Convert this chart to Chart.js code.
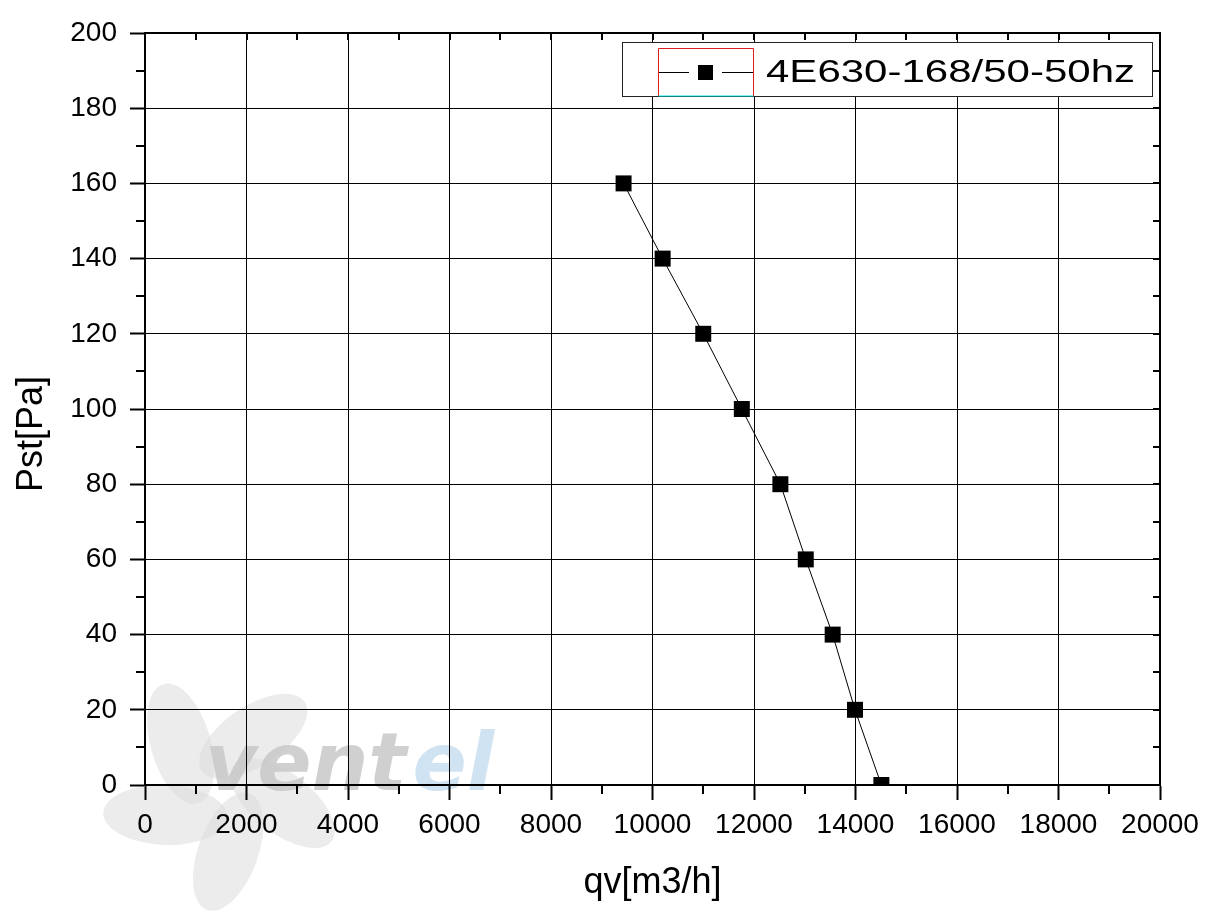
<!DOCTYPE html>
<html>
<head>
<meta charset="utf-8">
<script src="https://cdn.jsdelivr.net/npm/chart.js@4.4.0/dist/chart.umd.min.js"></script>
<style>
  html, body { margin: 0; padding: 0; background: #fff; }
  #wrap { width: 1223px; height: 921px; }
</style>
</head>
<body>
<div id="wrap"><canvas id="chart" width="1223" height="921"></canvas></div>
<script>
// fan curve
const flowRate = [9430, 10200, 11000, 11760, 12520, 13020, 13550, 13990, 14510];
const staticPressure = [160, 140, 120, 100, 80, 60, 40, 20, 0];
const seriesName = "4E630-168/50-50hz";

const xTicks = [0, 2000, 4000, 6000, 8000, 10000, 12000, 14000, 16000, 18000, 20000];
const yTicks = [0, 20, 40, 60, 80, 100, 120, 140, 160, 180, 200];
const xMinorStep = 1000;
const yMinorStep = 10;

const xTitle = "qv[m3/h]";
const yTitle = "Pst[Pa]";

const FONT = '"Liberation Sans", Arial, sans-serif';

// faint logo behind the plot
function drawWatermark(ctx) {
  ctx.save();
  ctx.fillStyle = "rgba(220,220,220,0.55)";
  const cx = 222, cy = 790;
  for (let i = 0; i < 5; i++) {
    const a = -2.3 + i * (Math.PI * 2 / 5);
    ctx.save();
    ctx.translate(cx + Math.cos(a) * 62, cy + Math.sin(a) * 62);
    ctx.rotate(a + 0.45);
    ctx.beginPath();
    ctx.ellipse(0, 0, 62, 30, 0, 0, Math.PI * 2);
    ctx.fill();
    ctx.restore();
  }
  ctx.font = 'italic bold 80px "DejaVu Sans", sans-serif';
  ctx.textBaseline = "alphabetic";
  ctx.fillStyle = "rgba(200,200,200,0.85)";
  ctx.fillText("vent", 205, 790);
  const w = ctx.measureText("vent").width;
  ctx.fillStyle = "rgba(200,222,240,0.85)";
  ctx.fillText("el", 205 + w + 6, 790);
  ctx.restore();
}

const frame = {
  id: "frame",
  beforeDraw(chart) {
    drawWatermark(chart.ctx);
  },
  afterDraw(chart) {
    const { ctx, chartArea: a, scales: { x, y } } = chart;
    ctx.save();
    ctx.strokeStyle = "#000";
    ctx.lineWidth = 2;
    ctx.beginPath();
    // minor ticks, outward on bottom and left
    for (let v = xMinorStep; v < xTicks[xTicks.length - 1]; v += 2 * xMinorStep) {
      const px = Math.round(x.getPixelForValue(v));
      ctx.moveTo(px, a.bottom);
      ctx.lineTo(px, a.bottom + 9);
    }
    for (let v = yMinorStep; v < yTicks[yTicks.length - 1]; v += 2 * yMinorStep) {
      const py = Math.round(y.getPixelForValue(v));
      ctx.moveTo(a.left, py);
      ctx.lineTo(a.left - 9, py);
    }
    // inward ticks on top and right
    for (let v = 0; v <= xTicks[xTicks.length - 1]; v += xMinorStep) {
      const px = Math.round(x.getPixelForValue(v));
      ctx.moveTo(px, a.top);
      ctx.lineTo(px, a.top + 7);
    }
    for (let v = 0; v <= yTicks[yTicks.length - 1]; v += yMinorStep) {
      const py = Math.round(y.getPixelForValue(v));
      ctx.moveTo(a.right, py);
      ctx.lineTo(a.right - 7, py);
    }
    ctx.stroke();
    // top and right frame
    ctx.beginPath();
    ctx.moveTo(a.left - 1, a.top);
    ctx.lineTo(a.right, a.top);
    ctx.lineTo(a.right, a.bottom);
    ctx.stroke();

    // y title
    ctx.fillStyle = "#000";
    ctx.font = "36px " + FONT;
    ctx.textAlign = "center";
    ctx.textBaseline = "middle";
    ctx.translate(32, 434);
    ctx.rotate(-Math.PI / 2);
    ctx.fillText(yTitle, 0, 0);
    ctx.restore();

    // legend box
    ctx.save();
    const bx = 622.5, by = 42.5, bw = 530, bh = 54;
    ctx.fillStyle = "#fff";
    ctx.fillRect(bx, by, bw, bh);
    ctx.strokeStyle = "#222";
    ctx.lineWidth = 1;
    ctx.strokeRect(bx, by, bw, bh);
    // odd red/cyan frame around the symbol
    ctx.strokeStyle = "#e02020";
    ctx.beginPath();
    ctx.moveTo(658.5, 96);
    ctx.lineTo(658.5, 48.5);
    ctx.lineTo(753.5, 48.5);
    ctx.lineTo(753.5, 96);
    ctx.stroke();
    ctx.strokeStyle = "#00e5f0";
    ctx.beginPath();
    ctx.moveTo(658.5, 96);
    ctx.lineTo(753.5, 96);
    ctx.stroke();
    // line + square symbol
    ctx.strokeStyle = "#000";
    ctx.beginPath();
    ctx.moveTo(659, 72.5);
    ctx.lineTo(689, 72.5);
    ctx.moveTo(722, 72.5);
    ctx.lineTo(753, 72.5);
    ctx.stroke();
    ctx.fillStyle = "#000";
    ctx.fillRect(698, 65, 15, 15);
    // label, stretched to the width in the picture
    ctx.font = "32px " + FONT;
    ctx.textBaseline = "alphabetic";
    const tw = ctx.measureText(seriesName).width;
    ctx.translate(766, 82);
    ctx.scale(369 / tw, 1);
    ctx.fillText(seriesName, 0, 0);
    ctx.restore();
  }
};

new Chart(document.getElementById("chart"), {
  type: "line",
  data: {
    datasets: [{
      label: seriesName,
      data: flowRate.map((q, i) => ({ x: q, y: staticPressure[i] })),
      borderColor: "#000",
      borderWidth: 1,
      backgroundColor: "#000",
      pointStyle: "rect",
      pointRadius: 11.3,
      pointBackgroundColor: "#000",
      pointBorderColor: "#000",
      pointBorderWidth: 0,
      tension: 0
    }]
  },
  options: {
    responsive: false,
    animation: false,
    events: [],
    layout: { padding: { left: 0, top: 33, right: 63, bottom: 0 } },
    plugins: {
      legend: { display: false },
      tooltip: { enabled: false }
    },
    scales: {
      x: {
        type: "linear",
        min: xTicks[0],
        max: xTicks[xTicks.length - 1],
        afterBuildTicks: (s) => { s.ticks = xTicks.map(v => ({ value: v })); },
        afterFit: (s) => { s.height = 136; },
        ticks: {
          color: "#000",
          font: { family: FONT, size: 28 },
          padding: 8,
          maxRotation: 0,
          autoSkip: false,
          callback: (v) => String(v)
        },
        grid: {
          color: "#000",
          lineWidth: 1,
          drawTicks: true,
          tickLength: 15,
          tickWidth: 2,
          tickColor: "#000"
        },
        border: { display: true, color: "#000", width: 2 },
        title: {
          display: true,
          text: xTitle,
          color: "#000",
          font: { family: FONT, size: 36 },
          padding: { top: 0, bottom: 16 }
        }
      },
      y: {
        type: "linear",
        min: yTicks[0],
        max: yTicks[yTicks.length - 1],
        afterBuildTicks: (s) => { s.ticks = yTicks.map(v => ({ value: v })); },
        afterFit: (s) => { s.width = 145; },
        ticks: {
          color: "#000",
          font: { family: FONT, size: 28 },
          padding: 13,
          autoSkip: false,
          callback: (v) => String(v)
        },
        grid: {
          color: "#000",
          lineWidth: 1,
          drawTicks: true,
          tickLength: 15,
          tickWidth: 2,
          tickColor: "#000"
        },
        border: { display: true, color: "#000", width: 2 }
      }
    }
  },
  plugins: [frame]
});
</script>
</body>
</html>
